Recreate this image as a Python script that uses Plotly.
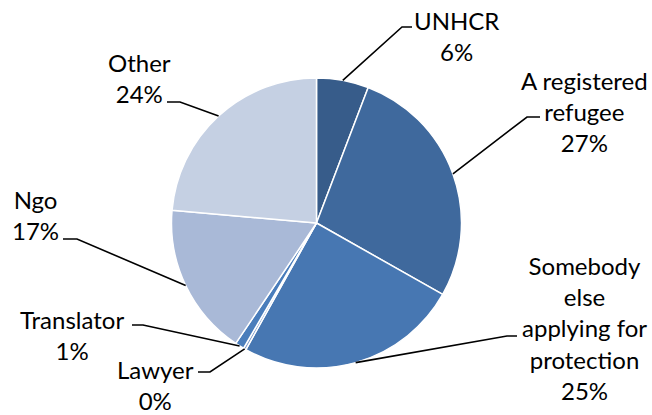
import math
import plotly.graph_objects as go

# ---- data ----
labels = ["UNHCR", "A registered refugee", "Somebody else applying for protection",
          "Lawyer", "Translator", "Ngo", "Other"]
label_text = ["UNHCR", "A registered<br>refugee", "Somebody<br>else<br>applying for<br>protection",
              "Lawyer", "Translator", "Ngo", "Other"]
values = [5.8, 27.4, 24.9, 0.3, 1.0, 17.0, 23.6]
colors = ["#375C8A", "#3F699D", "#4777B2", "#7F9CCB", "#4A7DBB", "#A9B9D7", "#C5D0E3"]

W, H = 652, 415
CX, CY, R = 316.5, 223.0, 145.0  # pie centre / radius in px (layout)

# label block centres and leader elbows (layout, px)
label_pos = {
    "UNHCR": (457, 36), "A registered refugee": (584, 111),
    "Somebody else applying for protection": (584, 328),
    "Lawyer": (155, 385), "Translator": (72, 335), "Ngo": (35, 215), "Other": (139, 78),
}
elbows = {
    "UNHCR": [(402, 27), (412, 27)],
    "A registered refugee": [(527, 117), (540, 117)],
    "Somebody else applying for protection": [(507, 336), (517, 336)],
    "Lawyer": [(210, 372), (198, 372)],
    "Translator": [(143, 325), (132, 325)],
    "Ngo": [(77, 239), (63, 239)],
    "Other": [(180, 102), (167, 102)],
}

def px2paper(x, y):
    return x / W, 1 - y / H

fig = go.Figure(go.Pie(
    labels=labels, values=values, sort=False, direction="clockwise", rotation=0,
    marker=dict(colors=colors, line=dict(color="white", width=1.5)),
    textinfo="none", hoverinfo="label+percent", showlegend=False,
    domain=dict(x=[(CX - R) / W, (CX + R) / W], y=[(H - CY - R) / H, (H - CY + R) / H]),
))

total = sum(values)
cum = 0.0
shapes, annotations = [], []
for lab, txt, v in zip(labels, label_text, values):
    mid = (cum + v / 2) / total * 2 * math.pi
    cum += v
    ex, ey = CX + R * math.sin(mid), CY - R * math.cos(mid)
    pts = [(ex, ey)] + elbows[lab]
    path = "M " + " L ".join("%f,%f" % px2paper(x, y) for x, y in pts)
    shapes.append(dict(type="path", path=path, xref="paper", yref="paper",
                       line=dict(color="black", width=1.6)))
    lx, ly = px2paper(*label_pos[lab])
    pct = round(v / total * 100)
    annotations.append(dict(text="%s<br>%d%%" % (txt, pct), x=lx, y=ly, xref="paper", yref="paper",
                            xanchor="center", yanchor="middle", showarrow=False,
                            align="center", font=dict(size=24, color="black")))

fig.update_layout(
    width=W, height=H, margin=dict(l=0, r=0, t=0, b=0),
    paper_bgcolor="white", plot_bgcolor="white",
    font=dict(family="Lato, 'Liberation Sans', sans-serif"),
    shapes=shapes, annotations=annotations,
)
fig.write_html("out.html", config={"displayModeBar": False},
               post_script="document.body.style.margin='0';")
